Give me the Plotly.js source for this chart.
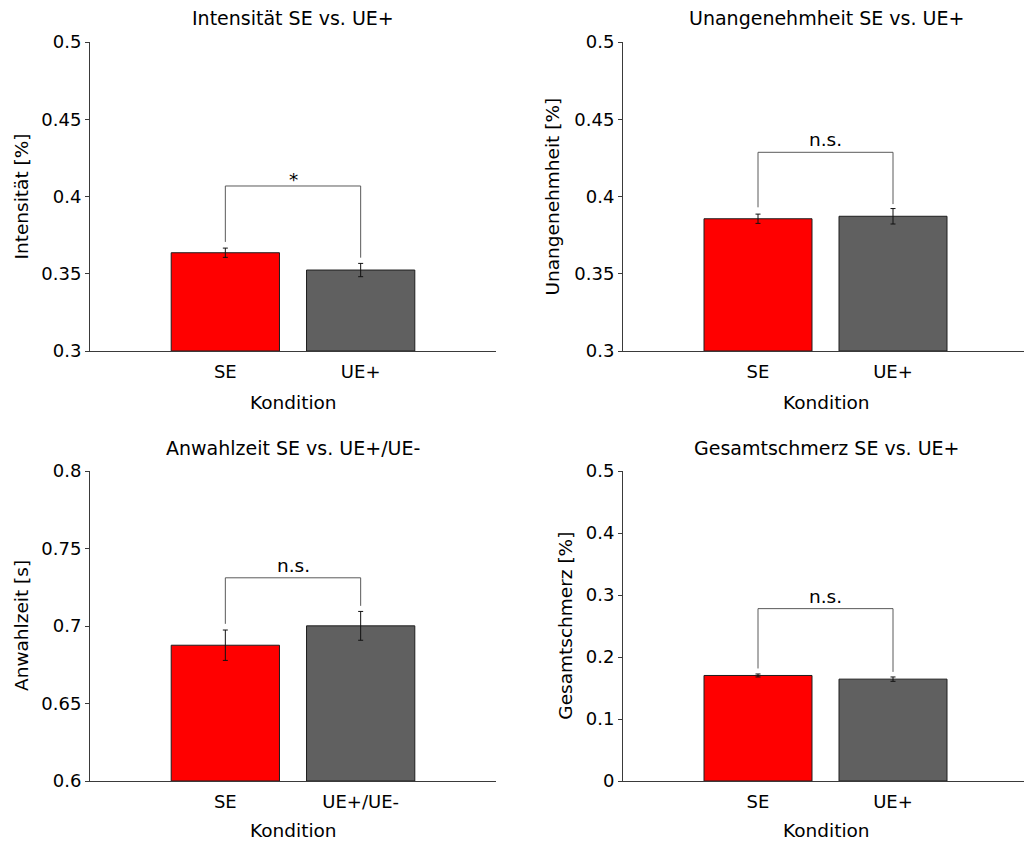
<!DOCTYPE html>
<html>
<head>
<meta charset="utf-8">
<script src="https://cdn.plot.ly/plotly-3.0.1.min.js"></script>
<style>html,body{margin:0;padding:0;background:#fff;}#chart{width:1024px;height:843px;}</style>
</head>
<body>
<div id="chart"></div>
<script>
// ---- data ----
const barPositions = [1, 2];
const categoriesA = ['SE', 'UE+'];
const categoriesB = ['SE', 'UE+/UE-'];

const intensitaet = [0.3636, 0.3524];
const intensitaetErr = [0.0030, 0.0043];
const intensitaetBracketTop = 0.4068;
const intensitaetBracketLegs = [0.3706, 0.3604];
const intensitaetSig = '*';

const unangenehm = [0.3856, 0.3872];
const unangenehmErr = [0.0030, 0.0050];
const unangenehmBracketTop = 0.4286;
const unangenehmBracketLegs = [0.3930, 0.3951];
const unangenehmSig = 'n.s.';

const anwahlzeit = [0.6876, 0.7001];
const anwahlzeitErr = [0.0098, 0.0093];
const anwahlzeitBracketTop = 0.7311;
const anwahlzeitBracketLegs = [0.7014, 0.7130];
const anwahlzeitSig = 'n.s.';

const gesamt = [0.1702, 0.1643];
const gesamtErr = [0.0024, 0.0035];
const gesamtBracketTop = 0.278;
const gesamtBracketLegs = [0.1815, 0.1760];
const gesamtSig = 'n.s.';

const ticksA = [0.3, 0.35, 0.4, 0.45, 0.5];
const tickTextA = ['0.3', '0.35', '0.4', '0.45', '0.5'];
const ticksB = [0.6, 0.65, 0.7, 0.75, 0.8];
const tickTextB = ['0.6', '0.65', '0.7', '0.75', '0.8'];
const ticksC = [0, 0.1, 0.2, 0.3, 0.4, 0.5];
const tickTextC = ['0', '0.1', '0.2', '0.3', '0.4', '0.5'];

const titles = ['Intensität SE vs. UE+', 'Unangenehmheit SE vs. UE+', 'Anwahlzeit SE vs. UE+/UE-', 'Gesamtschmerz SE vs. UE+'];
const yLabels = ['Intensität [%]', 'Unangenehmheit [%]', 'Anwahlzeit [s]', 'Gesamtschmerz [%]'];
const xLabel = 'Kondition';

// ---- styling ----
const FONT = 'DejaVu Sans, Liberation Sans, Arial, sans-serif';
const barColors = ['#ff0000', '#606060'];
const axisColor = '#3a3a3a';

const panels = [
  {vals: intensitaet, err: intensitaetErr, top: intensitaetBracketTop, legs: intensitaetBracketLegs, sig: intensitaetSig, cats: categoriesA, tv: ticksA, tt: tickTextA, range: [0.3, 0.5]},
  {vals: unangenehm, err: unangenehmErr, top: unangenehmBracketTop, legs: unangenehmBracketLegs, sig: unangenehmSig, cats: categoriesA, tv: ticksA, tt: tickTextA, range: [0.3, 0.5]},
  {vals: anwahlzeit, err: anwahlzeitErr, top: anwahlzeitBracketTop, legs: anwahlzeitBracketLegs, sig: anwahlzeitSig, cats: categoriesB, tv: ticksB, tt: tickTextB, range: [0.6, 0.8]},
  {vals: gesamt, err: gesamtErr, top: gesamtBracketTop, legs: gesamtBracketLegs, sig: gesamtSig, cats: categoriesA, tv: ticksC, tt: tickTextC, range: [0, 0.5]}
];

const W = 1024, H = 843;
const xDomLeft = [90 / W, 496 / W];
const xDomRight = [623 / W, 1];
const yDomTop = [1 - 351 / H, 1 - 42 / H];
const yDomBot = [1 - 781 / H, 1 - 471 / H];
const doms = [
  {x: xDomLeft, y: yDomTop, xr: [0, 3]},
  {x: xDomRight, y: yDomTop, xr: [0, (W - 623) / 135]},
  {x: xDomLeft, y: yDomBot, xr: [0, 3]},
  {x: xDomRight, y: yDomBot, xr: [0, (W - 623) / 135]}
];
const titleY = [1 - 18.5 / H, 1 - 18.5 / H, 1 - 448 / H, 1 - 448 / H];
const xLabelY = [1 - 402.5 / H, 1 - 402.5 / H, 1 - 830 / H, 1 - 830 / H];
const yLabelX = [21 / W, 552 / W, 21 / W, 564.7 / W];

const traces = [];
const layout = {
  width: W, height: H,
  margin: {l: 0, r: 0, t: 0, b: 0},
  paper_bgcolor: '#ffffff', plot_bgcolor: 'rgba(0,0,0,0)',
  showlegend: false,
  font: {family: FONT, color: '#000'},
  annotations: []
};

panels.forEach((p, i) => {
  const n = i === 0 ? '' : String(i + 1);
  const xa = 'x' + n, ya = 'y' + n;
  // bars start at the bottom of the visible range, so heights are value - base
  traces.push({
    type: 'bar', x: barPositions, y: p.vals.map(v => v - p.range[0]), width: 0.8,
    base: p.range[0], xaxis: xa, yaxis: ya,
    marker: {color: barColors, line: {color: '#1e1e1e', width: 1}},
    error_y: {type: 'data', array: p.err, visible: true, color: '#111', thickness: 1, width: 2.5},
    hoverinfo: 'skip'
  });
  traces.push({
    type: 'scatter', mode: 'lines', xaxis: xa, yaxis: ya,
    x: [barPositions[0], barPositions[0], barPositions[1], barPositions[1]],
    y: [p.legs[0], p.top, p.top, p.legs[1]],
    line: {color: '#5a5a5a', width: 1}, hoverinfo: 'skip'
  });
  layout['xaxis' + n] = {
    domain: doms[i].x, range: doms[i].xr, anchor: ya,
    tickvals: barPositions, ticktext: p.cats, ticks: '',
    showline: true, linecolor: axisColor, linewidth: 1, mirror: false,
    showgrid: false, zeroline: false, fixedrange: true,
    tickfont: {family: FONT, size: 18, color: '#000'},
    ticklabelstandoff: 4
  };
  layout['yaxis' + n] = {
    domain: doms[i].y, range: p.range, anchor: xa,
    tickvals: p.tv, ticktext: p.tt, ticks: 'outside', ticklen: 4, tickcolor: axisColor, tickwidth: 1,
    showline: true, linecolor: axisColor, linewidth: 1,
    showgrid: false, zeroline: false, fixedrange: true,
    tickfont: {family: FONT, size: 18, color: '#000'}
  };
  const xc = (doms[i].x[0] + (i % 2 === 0 ? doms[i].x[1] : doms[i].x[0] + 406 / W)) / 2;
  layout.annotations.push({
    text: titles[i], xref: 'paper', yref: 'paper', x: xc, y: titleY[i],
    xanchor: 'center', yanchor: 'middle', showarrow: false,
    font: {family: FONT, size: 19, color: '#000'}
  });
  layout.annotations.push({
    text: xLabel, xref: 'paper', yref: 'paper', x: xc, y: xLabelY[i],
    xanchor: 'center', yanchor: 'middle', showarrow: false,
    font: {family: FONT, size: 18.5, color: '#000'}
  });
  layout.annotations.push({
    text: yLabels[i], xref: 'paper', yref: 'paper', x: yLabelX[i], y: (doms[i].y[0] + doms[i].y[1]) / 2,
    xanchor: 'center', yanchor: 'middle', textangle: -90, showarrow: false,
    font: {family: FONT, size: 18.5, color: '#000'}
  });
  layout.annotations.push({
    text: p.sig, xref: xa, yref: ya, x: (barPositions[0] + barPositions[1]) / 2, y: p.top,
    xanchor: 'center', yanchor: 'bottom', showarrow: false,
    yshift: p.sig === '*' ? -6 : 0,
    font: {family: FONT, size: 18.5, color: '#000'}
  });
});

Plotly.newPlot('chart', traces, layout, {staticPlot: true, displayModeBar: false});
</script>
</body>
</html>
